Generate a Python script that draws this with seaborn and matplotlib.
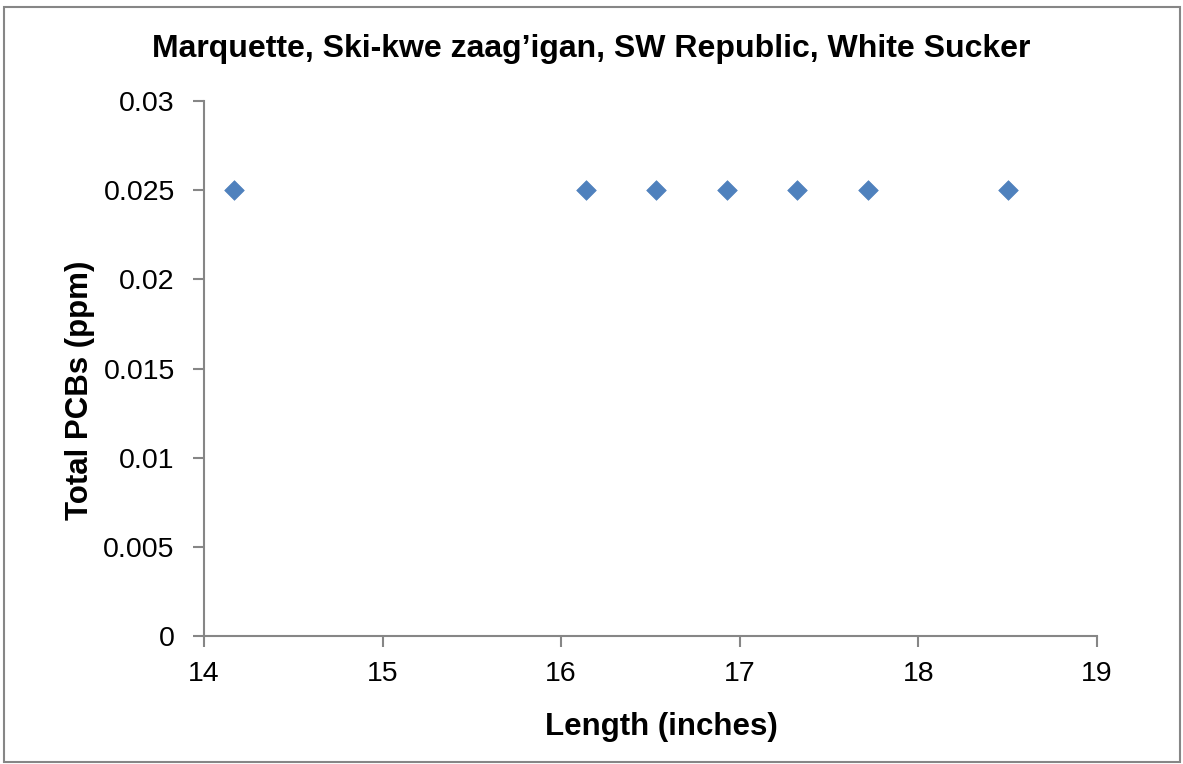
import numpy as np
import matplotlib
matplotlib.use("Agg")
import matplotlib.pyplot as plt
import seaborn as sns
from matplotlib.patches import Rectangle

# data
length_in = [14.17, 16.14, 16.53, 16.93, 17.32, 17.72, 18.50]
total_pcbs = [0.025, 0.025, 0.025, 0.025, 0.025, 0.025, 0.025]
x_ticks = [14, 15, 16, 17, 18, 19]
y_ticks = [0, 0.005, 0.01, 0.015, 0.02, 0.025, 0.03]
y_labels = ["0", "0.005", "0.01", "0.015", "0.02", "0.025", "0.03"]

sns.set_style("white")
plt.rcParams["font.family"] = ["Liberation Sans", "DejaVu Sans"]
plt.rcParams["text.color"] = "black"
plt.rcParams["axes.labelcolor"] = "black"

fig = plt.figure(figsize=(11.83, 7.64), dpi=100)
ax = fig.add_axes([0.1724, 0.1675, 0.7549, 0.7003])

sns.scatterplot(x=length_in, y=total_pcbs, marker="D", s=100, color="#4F81BD",
                edgecolor="#4F81BD", linewidth=0.5, ax=ax, zorder=3, clip_on=False)

ax.set_xlim(14, 19)
ax.set_ylim(0, 0.03)
ax.set_xticks(x_ticks)
ax.set_xticklabels([str(t) for t in x_ticks])
ax.set_yticks(y_ticks)
ax.set_yticklabels(y_labels)

for side in ["top", "right"]:
    ax.spines[side].set_visible(False)
for side in ["left", "bottom"]:
    ax.spines[side].set_color("#868686")
    ax.spines[side].set_linewidth(1.5)

ax.tick_params(axis="both", bottom=True, left=True, direction="out", length=8,
               width=1.5, color="#868686", labelsize=20.5, labelcolor="black")
ax.tick_params(axis="x", pad=10)
ax.tick_params(axis="y", pad=13)

ax.set_xlabel("Length (inches)", fontsize=22.5, fontweight="bold", va="center")
ax.set_ylabel("Total PCBs (ppm)", fontsize=22.5, fontweight="bold", va="center")
ax.xaxis.set_label_coords(0.5118, -0.170)
ax.yaxis.set_label_coords(-0.1389, 0.46)
fig.text(0.5, 1 - 49 / 764, "Marquette, Ski-kwe zaag\u2019igan, SW Republic, White Sucker",
         fontsize=23, fontweight="bold", ha="center", va="center", color="black")

# outer chart border
fig.patches.append(Rectangle((0.0034, 0.002), 0.994, 0.989, transform=fig.transFigure,
                             fill=False, edgecolor="#868686", linewidth=1.5))

fig.savefig("out.png", dpi=100)
